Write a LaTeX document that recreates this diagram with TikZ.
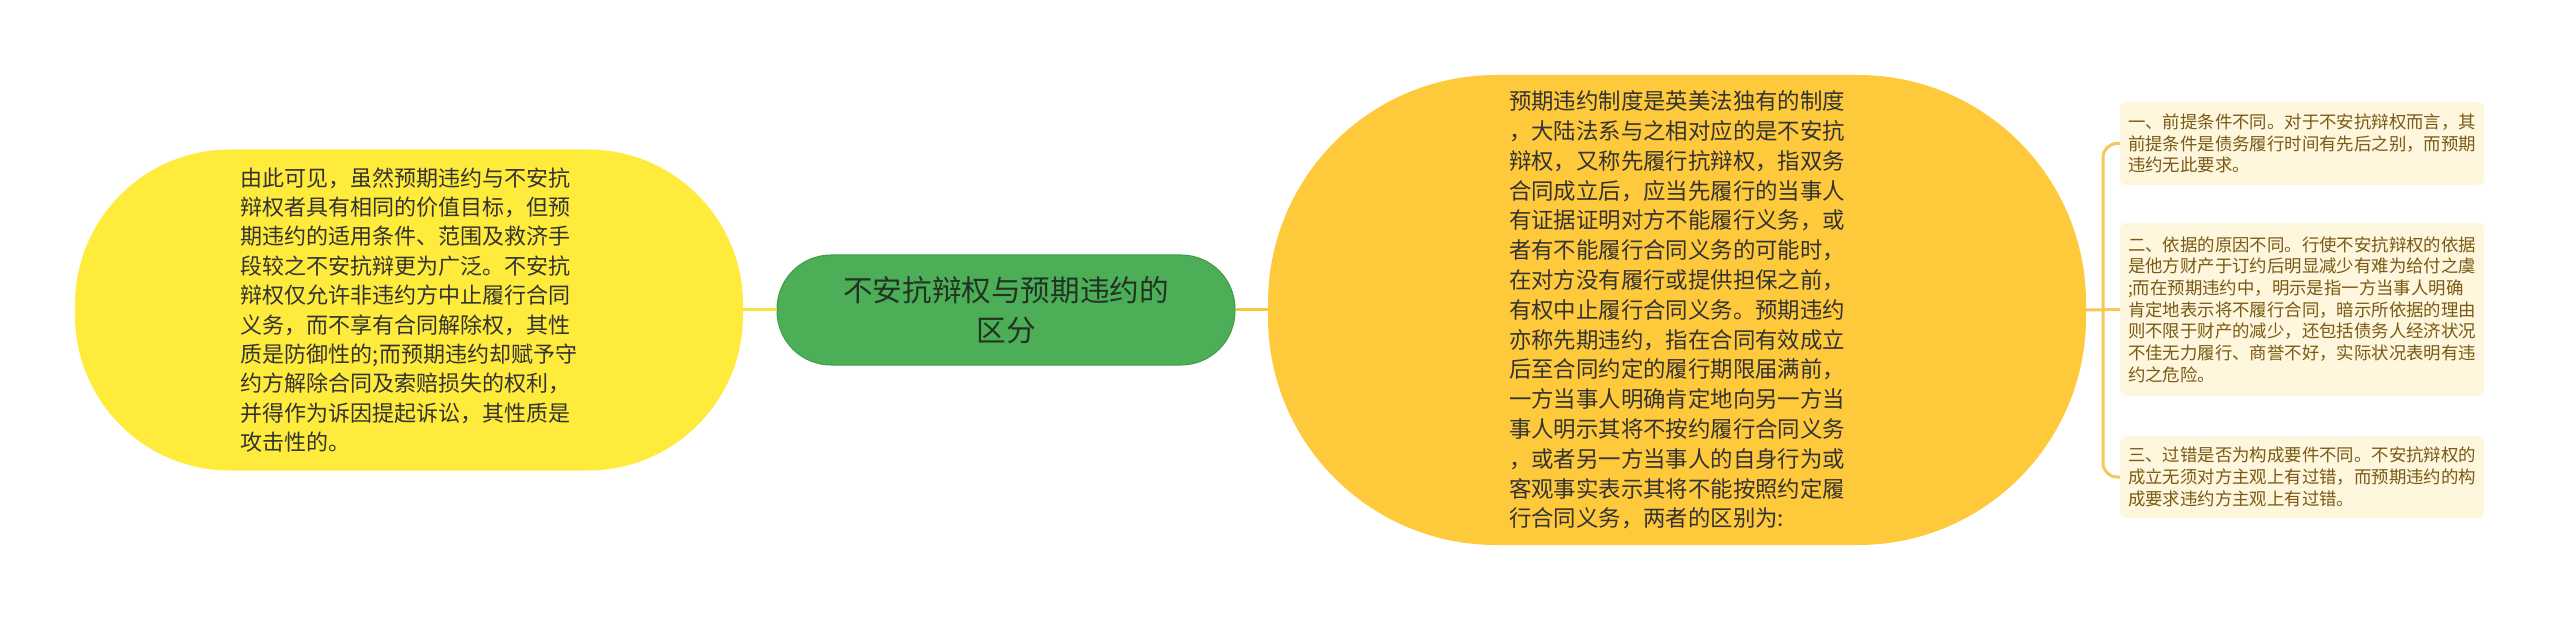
\documentclass[tikz,border=0pt]{standalone}
\usepackage{fontspec}
\setmainfont{Noto Sans CJK SC}
\usepackage{tikz}
\usetikzlibrary{positioning, calc}
\definecolor{leftfill}{HTML}{FFEB3B}
\definecolor{mainfill}{HTML}{FFC93C}
\definecolor{rootfill}{HTML}{4CAF58}
\definecolor{rootline}{HTML}{3F9A48}
\definecolor{roottext}{HTML}{233323}
\definecolor{textdark}{HTML}{333333}
\definecolor{notefill}{HTML}{FEF6DD}
\definecolor{notetext}{HTML}{7A5A14}
\definecolor{lineleft}{HTML}{F6E43C}
\definecolor{lineright}{HTML}{F8C640}
\definecolor{linebranch}{HTML}{F5C85A}

\begin{document}
\begin{tikzpicture}[
    x=1pt, y=-1pt,
    bubble/.style={rectangle, inner sep=0pt, align=left, text=textdark},
    note/.style={rectangle, rounded corners=6pt, fill=notefill, text=notetext, align=left, text width=348pt, inner xsep=8pt, inner ysep=0pt, font=\fontsize{17.4}{21.7}\selectfont},
    link/.style={line width=3pt}
]
    \useasboundingbox (0,0) rectangle (2560,620);

    % Root
    \node [bubble, fill=rootfill, draw=rootline, line width=1pt, rounded corners=54pt, minimum width=458pt, minimum height=110pt, align=center, text=roottext, font=\fontsize{29.6}{40}\selectfont] (root) at (1006,310) {不安抗辩权与预期违约的\\区分};

    % Left branch
    \node [bubble, fill=leftfill, rounded corners=155pt, minimum width=668pt, minimum height=321pt, font=\fontsize{22}{29.4}\selectfont] (summary) at (409,310) {由此可见，虽然预期违约与不安抗\\辩权者具有相同的价值目标，但预\\期违约的适用条件、范围及救济手\\段较之不安抗辩更为广泛。不安抗\\辩权仅允许非违约方中止履行合同\\义务，而不享有合同解除权，其性\\质是防御性的;而预期违约却赋予守\\约方解除合同及索赔损失的权利，\\并得作为诉因提起诉讼，其性质是\\攻击性的。};

    % Right branch
    \node [bubble, fill=mainfill, rounded corners=228pt, minimum width=818pt, minimum height=470pt, font=\fontsize{22.4}{29.8}\selectfont] (intro) at (1677,310) {预期违约制度是英美法独有的制度\\，大陆法系与之相对应的是不安抗\\辩权，又称先履行抗辩权，指双务\\合同成立后，应当先履行的当事人\\有证据证明对方不能履行义务，或\\者有不能履行合同义务的可能时，\\在对方没有履行或提供担保之前，\\有权中止履行合同义务。预期违约\\亦称先期违约，指在合同有效成立\\后至合同约定的履行期限届满前，\\一方当事人明确肯定地向另一方当\\事人明示其将不按约履行合同义务\\，或者另一方当事人的自身行为或\\客观事实表示其将不能按照约定履\\行合同义务，两者的区别为:};

    % Differences
    \node [note, minimum height=83pt] (diff1) at (2302,143.5) {一、前提条件不同。对于不安抗辩权而言，其\\前提条件是债务履行时间有先后之别，而预期\\违约无此要求。};
    \node [note, minimum height=173pt] (diff2) at (2302,309.5) {二、依据的原因不同。行使不安抗辩权的依据\\是他方财产于订约后明显减少有难为给付之虞\\;而在预期违约中，明示是指一方当事人明确\\肯定地表示将不履行合同，暗示所依据的理由\\则不限于财产的减少，还包括债务人经济状况\\不佳无力履行、商誉不好，实际状况表明有违\\约之危险。};
    \node [note, minimum height=82pt] (diff3) at (2302,477) {三、过错是否为构成要件不同。不安抗辩权的\\成立无须对方主观上有过错，而预期违约的构\\成要求违约方主观上有过错。};

    % Connectors
    \coordinate (fork) at (2103,310);
    \draw [link, lineleft] (summary.east) -- (root.west);
    \draw [link, lineright] (root.east) -- (intro.west);
    \draw [link, linebranch] (intro.east) -- (diff2.west);
    \draw [link, linebranch, rounded corners=14pt] (diff1.west) -| (fork) |- (diff3.west);
\end{tikzpicture}
\end{document}
